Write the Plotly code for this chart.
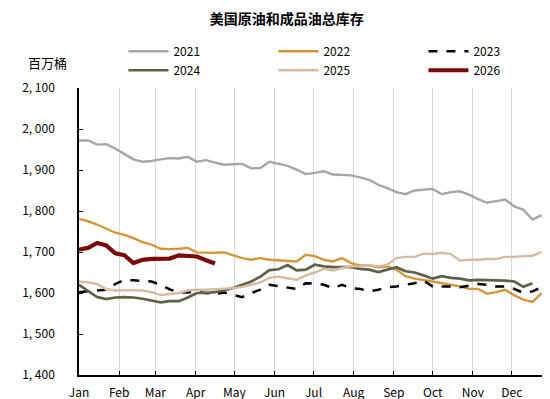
import plotly.graph_objects as go

years = ["2021", "2022", "2023", "2024", "2025", "2026"]

v2021 = [1972, 1972, 1962, 1963, 1952, 1940, 1926, 1920, 1922, 1926, 1929, 1928, 1932, 1920,
         1924, 1918, 1913, 1914, 1915, 1904, 1905, 1920, 1915, 1910, 1901, 1890, 1893, 1897,
         1889, 1888, 1887, 1882, 1876, 1864, 1856, 1846, 1841, 1850, 1852, 1854, 1841, 1846,
         1848, 1840, 1829, 1820, 1824, 1828, 1811, 1803, 1779, 1790]
v2022 = [1781, 1775, 1767, 1757, 1747, 1742, 1734, 1724, 1718, 1708, 1707, 1708, 1710, 1699,
         1698, 1698, 1699, 1692, 1685, 1681, 1685, 1681, 1680, 1679, 1677, 1693, 1690, 1681,
         1677, 1685, 1673, 1667, 1667, 1663, 1665, 1657, 1641, 1635, 1632, 1628, 1624, 1620,
         1616, 1610, 1610, 1598, 1602, 1608, 1594, 1584, 1578, 1600]
v2023 = [1602, 1604, 1607, 1608, 1622, 1632, 1631, 1630, 1628, 1620, 1609, 1601, 1602, 1602,
         1600, 1598, 1601, 1596, 1590, 1600, 1608, 1620, 1617, 1614, 1610, 1624, 1623, 1620,
         1612, 1620, 1612, 1610, 1604, 1608, 1614, 1616, 1620, 1624, 1630, 1616, 1616, 1616,
         1614, 1618, 1622, 1620, 1616, 1616, 1610, 1600, 1604, 1614]
v2024 = [1620, 1604, 1590, 1585, 1589, 1590, 1589, 1586, 1581, 1577, 1580, 1580, 1589, 1600,
         1600, 1602, 1606, 1612, 1620, 1628, 1640, 1656, 1658, 1668, 1655, 1657, 1669, 1665,
         1663, 1663, 1663, 1659, 1657, 1651, 1657, 1663, 1653, 1650, 1643, 1635, 1641, 1637,
         1635, 1631, 1632, 1632, 1631, 1630, 1628, 1615, 1624]
v2025 = [1628, 1626, 1622, 1609, 1606, 1607, 1607, 1606, 1602, 1595, 1597, 1600, 1606, 1608,
         1608, 1609, 1610, 1612, 1615, 1620, 1626, 1637, 1640, 1636, 1632, 1643, 1650, 1659,
         1655, 1661, 1665, 1665, 1668, 1665, 1669, 1685, 1688, 1688, 1696, 1695, 1698, 1695,
         1679, 1681, 1681, 1683, 1683, 1688, 1688, 1690, 1691, 1700]
v2026 = [1706, 1710, 1722, 1716, 1697, 1692, 1673, 1681, 1683, 1683, 1684, 1692, 1691, 1689,
         1680, 1672]

series = [v2021, v2022, v2023, v2024, v2025, v2026]

month_labels = ["Jan", "Feb", "Mar", "Apr", "May", "Jun", "Jul", "Aug", "Sep", "Oct", "Nov", "Dec"]
month_start_day = [0, 31, 59, 90, 120, 151, 181, 212, 243, 273, 304, 334]

y_ticks = [1400, 1500, 1600, 1700, 1800, 1900, 2000, 2100]
y_ticklabels = ["1, 400", "1, 500", "1, 600", "1, 700", "1, 800", "1, 900", "2, 000", "2, 100"]

colors = ["#A6A6A6", "#D4963C", "#000000", "#5E6148", "#D6BBA3", "#7A0A0A"]
widths = [2.4, 2.4, 2.5, 2.7, 2.4, 4.2]
dashes = ["solid", "solid", "dash", "solid", "solid", "solid"]

FONT = "Noto Sans CJK SC"

fig = go.Figure()
for name, vals, c, w, d in zip(years, series, colors, widths, dashes):
    fig.add_trace(go.Scatter(
        x=list(range(len(vals))), y=vals, mode="lines", name=name,
        line=dict(color=c, width=w, dash=d),
    ))

fig.update_layout(
    width=550, height=399,
    margin=dict(l=71, r=16, t=80, b=32, autoexpand=False),
    paper_bgcolor="white", plot_bgcolor="white",
    font=dict(family=FONT, size=12, color="#000000"),
    title=dict(text="<b>美国原油和成品油总库存</b>", x=0.507, xanchor="center",
               xref="container", yref="container",
               y=0.972, yanchor="middle", font=dict(size=14, family=FONT)),
    showlegend=True,
    legend=dict(orientation="h", x=0.096, xanchor="left", y=1.095, yanchor="middle",
                entrywidth=95, entrywidthmode="pixels", itemwidth=40,
                font=dict(size=12, family=FONT), bgcolor="rgba(0,0,0,0)",
                tracegroupgap=0),
    annotations=[dict(text="百万桶", xref="paper", yref="paper",
                      x=-0.067, y=1.09, xanchor="center", yanchor="middle",
                      showarrow=False, font=dict(size=13, family=FONT))],
)

fig.update_xaxes(
    range=[0, 51.05],
    tickvals=[d / 7 for d in month_start_day], ticktext=month_labels,
    showgrid=True, gridcolor="#D9D9D9", gridwidth=1.2,
    showline=True, linecolor="black", linewidth=1.5,
    ticks="inside", ticklen=4, tickcolor="black", tickwidth=1.2,
    ticklabelstandoff=6, zeroline=False,
)
fig.update_yaxes(
    range=[1400, 2100],
    tickvals=y_ticks, ticktext=y_ticklabels,
    showgrid=False,
    showline=True, linecolor="black", linewidth=1.5,
    ticks="inside", ticklen=4, tickcolor="black", tickwidth=1.2,
    ticklabelstandoff=20, zeroline=False,
)

fig.write_html("out.html")
